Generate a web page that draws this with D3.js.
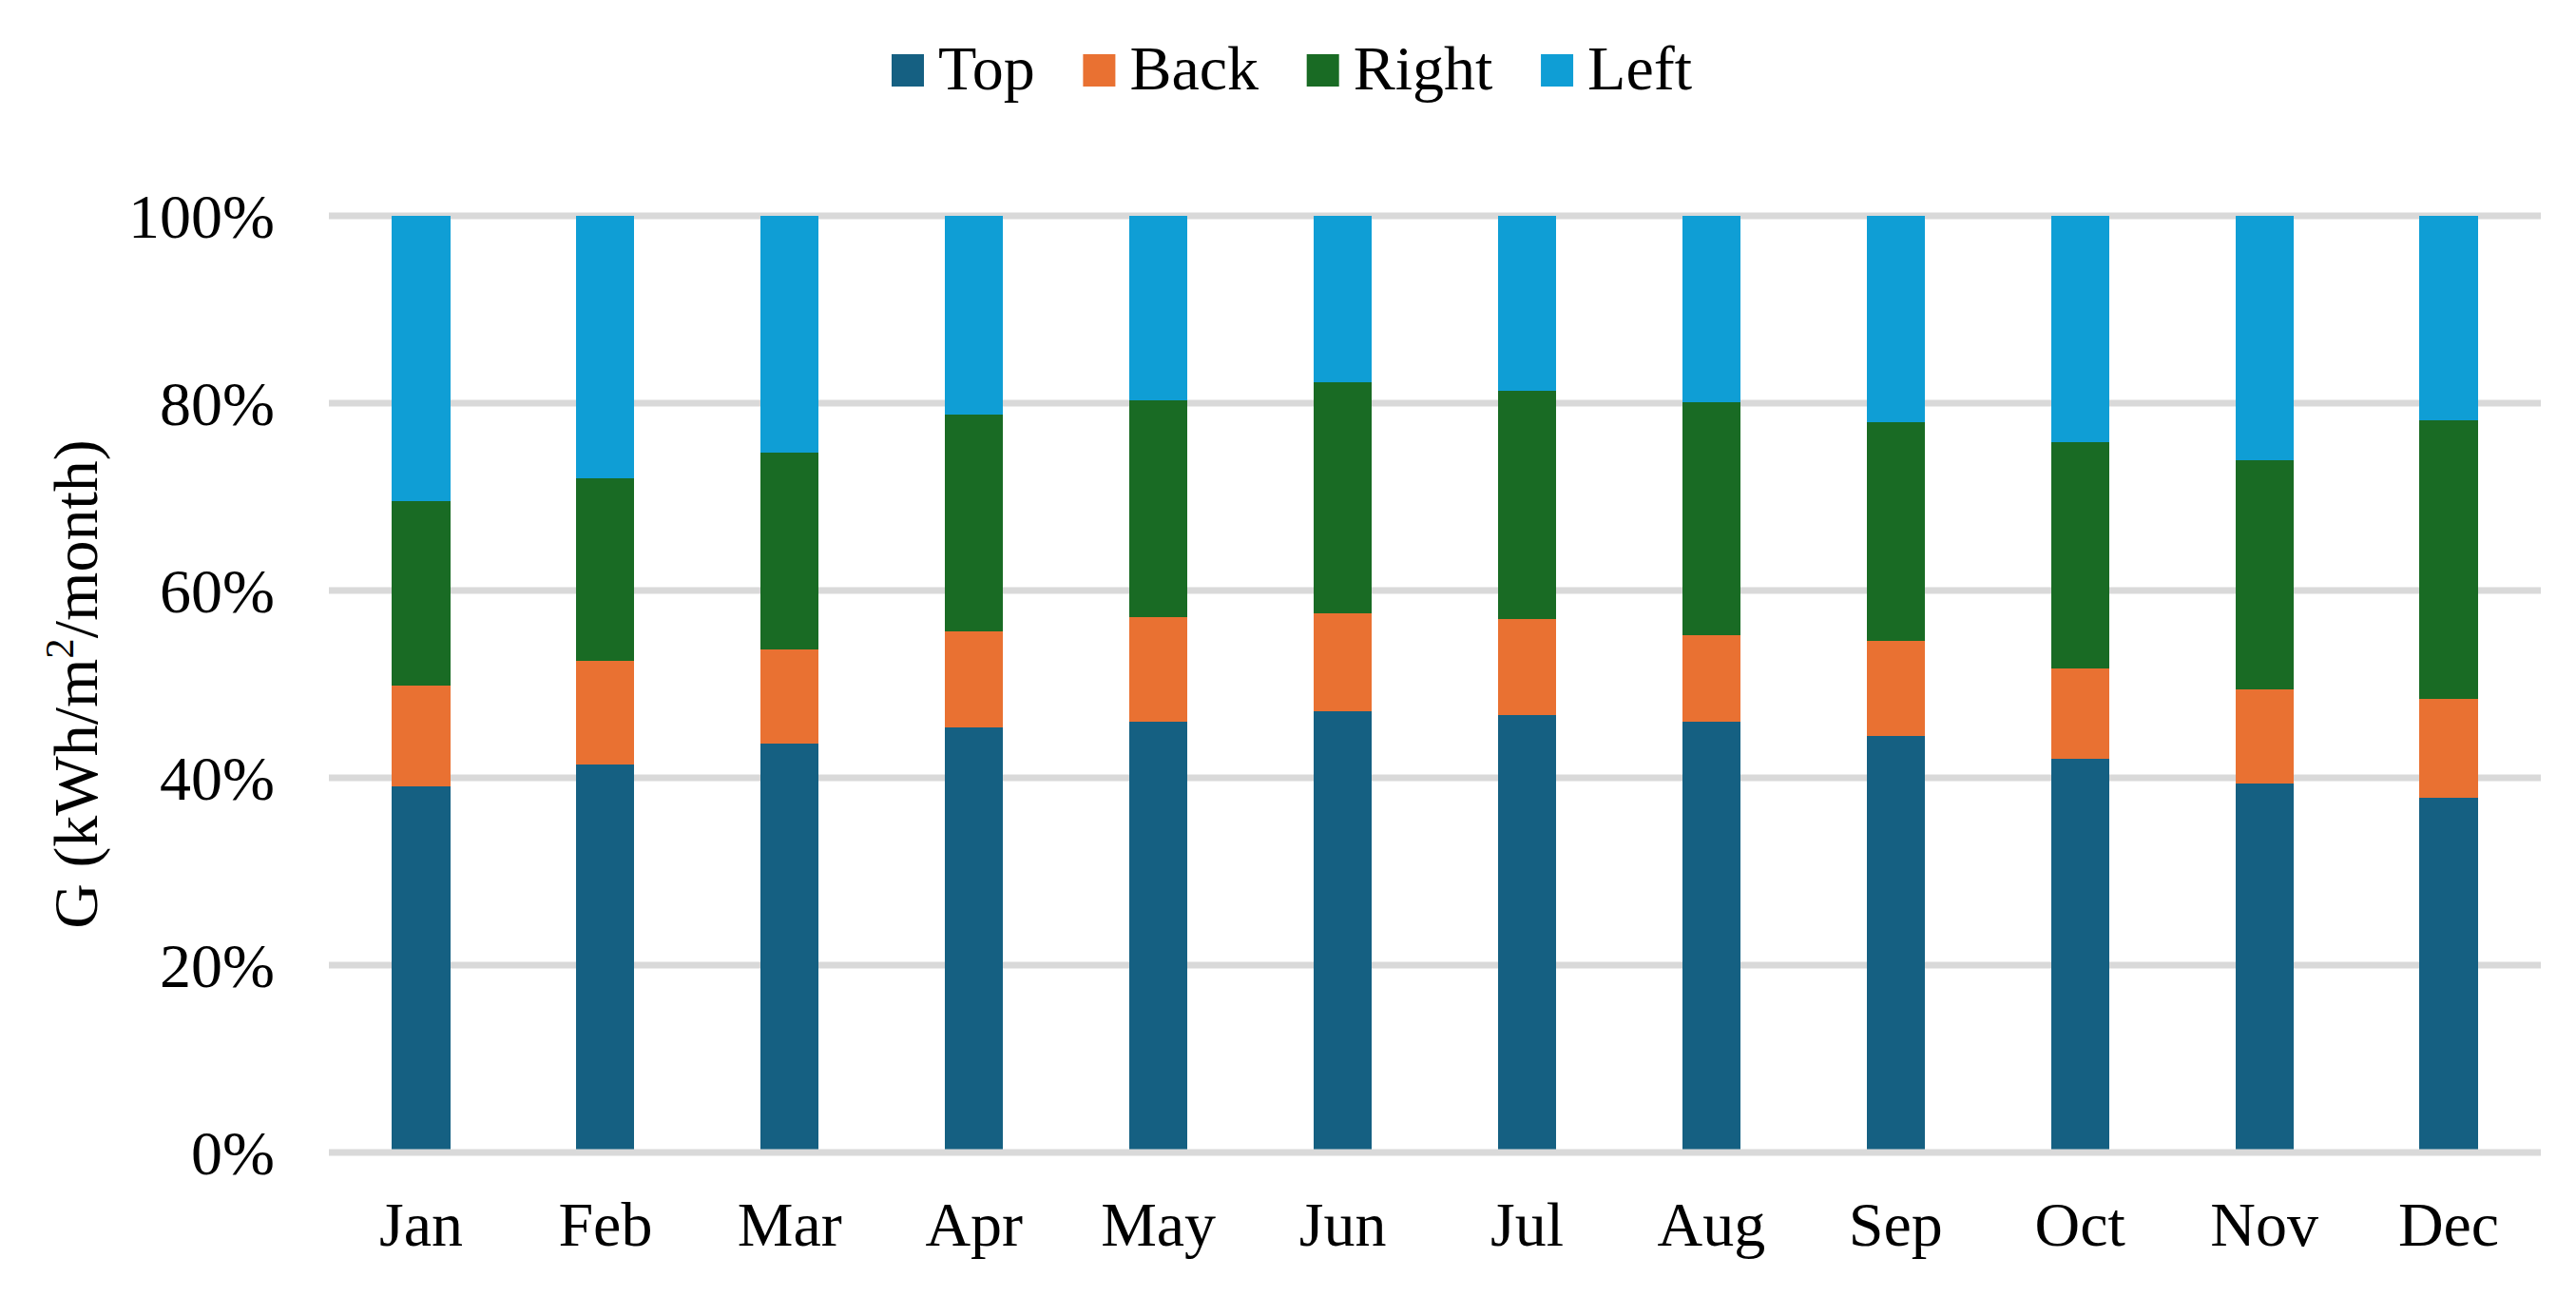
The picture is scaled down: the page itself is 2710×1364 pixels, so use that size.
<!DOCTYPE html>
<html>
<head>
<meta charset="utf-8">
<script src="https://cdn.jsdelivr.net/npm/d3@7"></script>
<style>
  html, body { margin: 0; padding: 0; background: #ffffff; }
  svg { display: block; }
  text { font-family: "Liberation Serif", "Times New Roman", serif; fill: #000; }
</style>
</head>
<body>
<svg id="chart" width="2710" height="1364"></svg>
<script>
// ---- Data (percent share of monthly irradiation) ----
const months = ["Jan","Feb","Mar","Apr","May","Jun","Jul","Aug","Sep","Oct","Nov","Dec"];
const seriesNames = ["Top","Back","Right","Left"];
const topValues   = [39.1, 41.4, 43.7, 45.4, 46.0, 47.1, 46.7, 46.0, 44.5, 42.0, 39.4, 37.9];
const backValues  = [10.7, 11.1, 10.0, 10.2, 11.2, 10.5, 10.3,  9.2, 10.1,  9.7, 10.0, 10.5];
const rightValues = [19.7, 19.5, 21.0, 23.2, 23.1, 24.6, 24.3, 24.9, 23.4, 24.1, 24.5, 29.8];
const leftValues  = [30.5, 28.0, 25.3, 21.2, 19.7, 17.8, 18.7, 19.9, 22.0, 24.2, 26.1, 21.8];
const yTicks = [0, 20, 40, 60, 80, 100];
const yTitle = "G (kWh/m";
const colors = ["#156082", "#E97132", "#196B24", "#0F9ED5"];

// ---- Build table ----
const valuesBySeries = { Top: topValues, Back: backValues, Right: rightValues, Left: leftValues };
const table = months.map((m, i) => {
  const row = { month: m };
  seriesNames.forEach(s => row[s] = valuesBySeries[s][i]);
  return row;
});
// normalize to 100% like a 100% stacked chart
const stack = d3.stack().keys(seriesNames).offset(d3.stackOffsetExpand);
const stacked = stack(table);

const svg = d3.select("#chart");
const W = 2710, H = 1364;
const plot = { left: 346, right: 2673, top: 227, bottom: 1212 };

const x = d3.scaleBand().domain(months).range([plot.left, plot.right]).paddingInner(0.685).paddingOuter(0.3425);
const y = d3.scaleLinear().domain([0, 1]).range([plot.bottom, plot.top]);
const color = d3.scaleOrdinal().domain(seriesNames).range(colors);

const FS = 66;

// gridlines
svg.append("g").selectAll("line")
  .data(yTicks.filter(t => t > 0))
  .join("line")
  .attr("x1", plot.left).attr("x2", plot.right)
  .attr("y1", d => y(d / 100)).attr("y2", d => y(d / 100))
  .attr("stroke", "#d9d9d9").attr("stroke-width", 7);

// bars
svg.append("g").selectAll("g")
  .data(stacked)
  .join("g")
  .attr("fill", d => color(d.key))
  .selectAll("rect")
  .data(d => d)
  .join("rect")
  .attr("x", d => x(d.data.month))
  .attr("width", x.bandwidth())
  .attr("y", d => y(d[1]))
  .attr("height", d => y(d[0]) - y(d[1]))
  .attr("shape-rendering", "crispEdges");

// x axis line (baseline gridline drawn over bars)
svg.append("line")
  .attr("x1", plot.left).attr("x2", plot.right)
  .attr("y1", y(0)).attr("y2", y(0))
  .attr("stroke", "#d9d9d9").attr("stroke-width", 7);

// y axis via d3.axisLeft
const yAxis = d3.axisLeft(y)
  .tickValues(yTicks.map(t => t / 100))
  .tickFormat(d => Math.round(d * 100) + "%")
  .tickSize(0).tickPadding(57);
const gy = svg.append("g").attr("transform", `translate(${plot.left},0)`).call(yAxis);
gy.select(".domain").remove();
gy.selectAll("text")
  .attr("font-size", FS)
  .attr("font-family", "Liberation Serif, Times New Roman, serif")
  .attr("fill", "#000")
  .attr("dy", "0.34em");

// x axis via d3.axisBottom
const xAxis = d3.axisBottom(x).tickSize(0).tickPadding(0);
const gx = svg.append("g").attr("transform", `translate(0,${plot.bottom})`).call(xAxis);
gx.select(".domain").remove();
gx.selectAll("text")
  .attr("font-size", FS)
  .attr("font-family", "Liberation Serif, Times New Roman, serif")
  .attr("fill", "#000")
  .attr("dy", null)
  .attr("y", 98);

// y axis title
const title = svg.append("text")
  .attr("transform", `translate(102, ${(plot.top + plot.bottom) / 2}) rotate(-90)`)
  .attr("text-anchor", "middle")
  .attr("font-size", FS);
title.append("tspan").text(yTitle);
title.append("tspan").text("2").attr("font-size", FS * 0.65).attr("dy", -FS * 0.38);
title.append("tspan").text("/month)").attr("dy", FS * 0.38);

// legend: spans from x=938 to x=1780
const legendStart = 938, legendEnd = 1780;
const legend = svg.append("g");
const items = legend.selectAll("g").data(seriesNames).join("g");
items.append("rect").attr("width", 34).attr("height", 34).attr("y", 57).attr("fill", d => color(d));
items.append("text").attr("x", 49).attr("y", 94).attr("font-size", FS).text(d => d);
const widths = [];
items.each(function () { widths.push(49 + d3.select(this).select("text").node().getComputedTextLength()); });
const gap = (legendEnd - legendStart - d3.sum(widths)) / (widths.length - 1);
let cx = legendStart;
items.each(function (d, i) {
  d3.select(this).attr("transform", `translate(${cx},0)`);
  cx += widths[i] + gap;
});
</script>
</body>
</html>
